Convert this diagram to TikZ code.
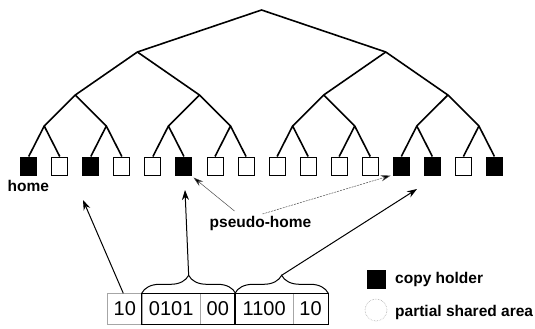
\documentclass[tikz,border=0pt]{standalone}
\usepackage{fontspec}
\setmainfont{Liberation Sans}
\usetikzlibrary{decorations.pathreplacing,calc,arrows.meta}

\begin{document}
\begin{tikzpicture}[x=1pt,y=-1pt,
  leaf/.style={draw=black, line width=1pt, fill=white, minimum width=16pt, minimum height=18pt, inner sep=0pt},
  holder/.style={leaf, fill=black},
  branch/.style={line width=1.6pt, line join=round},
  lbl/.style={font=\fontsize{15.5}{18}\selectfont\bfseries, inner sep=0pt},
  cell/.style={draw=gray!70, line width=0.6pt, minimum height=30.7pt, inner sep=0pt, anchor=north west, font=\fontsize{20}{22}\selectfont},
  group/.style={line width=1.3pt},
  brace/.style={line width=1pt, decorate, decoration={brace, amplitude=18pt}},
  ptr/.style={line width=1pt, -{Stealth[length=10pt,width=7pt]}},
  note/.style={line width=0.5pt, draw=gray!60!black, -{Stealth[length=10pt,width=6pt,fill=black]}},
]
\useasboundingbox (0,0) rectangle (535,329);

% leaves of the tree (filled ones hold a copy)
\foreach \i/\s in {0/holder,1/leaf,2/holder,3/leaf,4/leaf,5/holder,6/leaf,7/leaf,
                   8/leaf,9/leaf,10/leaf,11/leaf,12/holder,13/holder,14/leaf,15/holder}
  \node[\s] (l\i) at ({28.7+31.05*\i},166) {};

% inner branching points
\foreach \j in {0,...,7}
  \coordinate (a\j) at ({28.7+31.05*(2*\j+0.5)},126);
\foreach \k in {0,...,3}
  \coordinate (b\k) at ({28.7+31.05*(4*\k+1.5)},95);
\foreach \m in {0,1}
  \coordinate (c\m) at ({28.7+31.05*(8*\m+3.5)},52);
\coordinate (r) at ({28.7+31.05*7.5},10);

% branches
\foreach \j [evaluate=\j as \p using int(2*\j), evaluate=\j as \q using int(2*\j+1)] in {0,...,7}
  \draw[branch] (l\p.north) -- (a\j) -- (l\q.north);
\foreach \k [evaluate=\k as \p using int(2*\k), evaluate=\k as \q using int(2*\k+1)] in {0,...,3}
  \draw[branch] (a\p) -- (b\k) -- (a\q);
\foreach \m [evaluate=\m as \p using int(2*\m), evaluate=\m as \q using int(2*\m+1)] in {0,1}
  \draw[branch] (b\p) -- (c\m) -- (b\q);
\draw[branch] (c0) -- (r) -- (c1);

% labels
\node[lbl, anchor=base] (home) at (28.3,191) {home};
\node[lbl, anchor=base] (ph) at (260.5,227) {pseudo-home};

% address register
\node[cell, minimum width=34.4pt] (g0) at (107.3,293.3) {10};
\node[cell, minimum width=58.3pt] (g1) at (141.7,293.3) {0101};
\node[cell, minimum width=35pt]   (g2) at (200,293.3) {00};
\node[cell, minimum width=57.7pt] (g3) at (235,293.3) {1100};
\node[cell, minimum width=35pt]   (g4) at (292.7,293.3) {10};
\draw[group] (g1.north west) rectangle (g2.south east);
\draw[group] (g3.north west) rectangle (g4.south east);

% braces over the two field groups
\draw[brace] (g1.north west) -- (g2.north east);
\draw[brace] (g3.north west) -- (g4.north east);
\coordinate (t1) at ($(g1.north west)!0.5!(g2.north east)+(0,-18)$);
\coordinate (t2) at ($(g3.north west)!0.5!(g4.north east)+(0,-18)$);

% pointers from the register into the tree
\coordinate (h0) at (83,200);
\coordinate (h1) at (185,190);
\coordinate (h2) at (417,189);
\draw[ptr] ([xshift=-1.5pt]g0.north) -- (h0);
\draw[ptr] (t1) -- (h1);
\draw[ptr] (t2) -- (h2);

% pseudo-home pointers
\draw[note] ($(ph.base)+(-26,-16)$) -- ([shift={(1,2)}]l5.south east);
\draw[note, dash pattern=on 2pt off 1pt] ($(ph.base)+(2,-13)$) -- ([shift={(-2,0)}]l12.south west);

% legend
\node[holder, minimum width=18pt] (key1) at (376,279) {};
\node[lbl, anchor=base west] at (395,283) {copy holder};
\node[circle, draw=gray!65, densely dotted, line width=0.6pt, minimum size=22pt, inner sep=0pt] (key2) at (376,310) {};
\node[lbl, anchor=base west] at (395,316.5) {partial shared area};
\end{tikzpicture}
\end{document}
